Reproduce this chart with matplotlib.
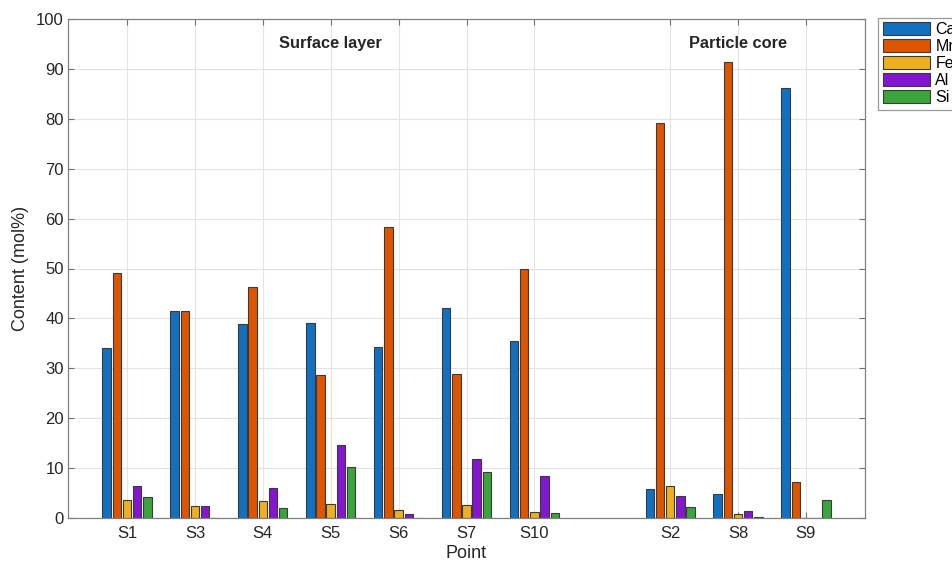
import matplotlib
matplotlib.use("Agg")
import matplotlib.pyplot as plt
import numpy as np

points = ["S1", "S3", "S4", "S5", "S6", "S7", "S10", "S2", "S8", "S9"]
positions = [1, 2, 3, 4, 5, 6, 7, 9, 10, 11]
elements = ["Ca", "Mn", "Fe", "Al", "Si"]
Ca = [34.1, 41.5, 38.8, 39.0, 34.2, 42.1, 35.4, 5.9, 4.9, 86.1]
Mn = [49.1, 41.5, 46.3, 28.7, 58.3, 28.9, 50.0, 79.2, 91.3, 7.3]
Fe = [3.6, 2.4, 3.4, 2.9, 1.7, 2.6, 1.2, 6.5, 0.9, 0.0]
Al = [6.5, 2.4, 6.1, 14.7, 0.8, 11.8, 8.5, 4.4, 1.5, 0.0]
Si = [4.2, 0.0, 2.1, 10.3, 0.0, 9.2, 1.1, 2.2, 0.3, 3.7]
series = [Ca, Mn, Fe, Al, Si]
colors = ["#1170C0", "#DD5500", "#EDB120", "#8516D0", "#3AA53A"]
group_labels = ["Surface layer", "Particle core"]
group_centers = [4, 10]

plt.rcParams['font.family'] = ['Liberation Sans', 'DejaVu Sans']

fig = plt.figure(figsize=(9.53, 5.63), dpi=100)
ax = fig.add_axes([68/953, 45/563, (865-68)/953, (518-19)/563])

pos = np.array(positions, dtype=float)
step = 0.15
width = 0.125
for i, (vals, c, name) in enumerate(zip(series, colors, elements)):
    ax.bar(pos + (i - 2) * step, vals, width=width, color=c,
           edgecolor="#3a3a3a", linewidth=0.8, label=name, zorder=2)

ax.set_xlim(0.13, 11.87)
ax.set_ylim(0, 100)
ax.set_yticks(np.arange(0, 101, 10))
ax.set_xticks(positions)
ax.set_xticklabels(points)
ax.grid(True, color="#E3E3E3", linewidth=0.8, zorder=0)
ax.set_axisbelow(True)

for s in ax.spines.values():
    s.set_color("#808080")
    s.set_linewidth(0.9)
ax.tick_params(direction="in", top=True, right=True, length=4, width=0.8,
               color="#707070", labelsize=12, labelcolor="#262626")
ax.tick_params(axis="y", pad=3)
ax.tick_params(axis="x", pad=6)

ax.set_xlabel("Point", fontsize=13, color="#262626", labelpad=3)
ax.set_ylabel("Content (mol%)", fontsize=13, color="#262626", labelpad=5)

for lab, cx in zip(group_labels, group_centers):
    ax.text(cx, 95, lab, ha="center", va="center", fontsize=11.8,
            fontweight="bold", color="#262626")

leg = ax.legend(loc="upper left", bbox_to_anchor=(1.016, 1.003), fontsize=11.5,
                handlelength=3.0, handleheight=0.85, labelspacing=0.12,
                handletextpad=0.3, borderpad=0.3, borderaxespad=0,
                frameon=True, fancybox=False, edgecolor="#808080")
leg.get_frame().set_linewidth(0.9)

fig.savefig("out.png", dpi=100)
